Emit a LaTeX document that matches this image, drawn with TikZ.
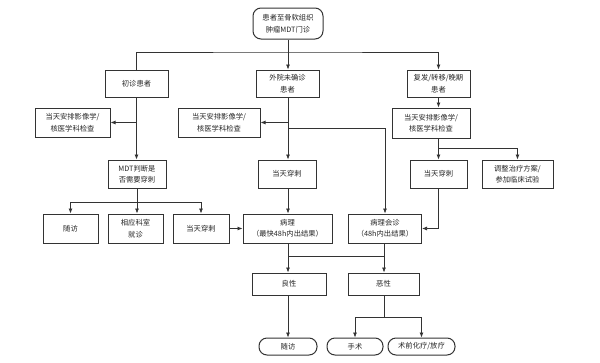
\documentclass[tikz,border=0pt]{standalone}
\usepackage{fontspec}
\newfontfamily\cjk{Noto Sans CJK SC}
\usetikzlibrary{arrows.meta,calc}
\begin{document}
\begin{tikzpicture}[x=1pt,y=-1pt,
  box/.style={draw=black!80, line width=1pt, fill=white, inner sep=0pt, align=center,
    font=\cjk\fontsize{7.3}{11.5}\selectfont, text=black!85},
  rbox/.style={box, rounded corners=8pt},
  arr/.style={-{Latex[length=5pt,width=4pt]}, line width=0.7pt, draw=black!80},
  ln/.style={line width=0.7pt, draw=black!80}]
\useasboundingbox[fill=white] (0,0) rectangle (600,362);
% nodes
\node[rbox, minimum width=70pt, minimum height=31pt] (top) at (288,23.5) {患者至骨软组织\\肿瘤MDT门诊};
\node[box, minimum width=63pt, minimum height=27pt] (chu) at (136.5,83.5) {初诊患者};
\node[box, minimum width=63pt, minimum height=27pt] (wy) at (287.5,83.5) {外院未确诊\\患者};
\node[box, minimum width=63pt, minimum height=27pt] (ff) at (438.5,83.5) {复发/转移/晚期\\患者};
\node[box, minimum width=75pt, minimum height=29pt] (img1) at (72.5,122.5) {当天安排影像学/\\核医学科检查};
\node[box, minimum width=82pt, minimum height=29pt] (img2) at (219,122.5) {当天安排影像学/\\核医学科检查};
\node[box, minimum width=78pt, minimum height=30pt] (img3) at (431,123) {当天安排影像学/\\核医学科检查};
\node[box, minimum width=58pt, minimum height=28pt] (mdt) at (137,174) {MDT判断是\\否需要穿刺};
\node[box, minimum width=58pt, minimum height=28pt] (cc2) at (287,174) {当天穿刺};
\node[box, minimum width=57pt, minimum height=28pt] (cc3) at (438.5,174) {当天穿刺};
\node[box, minimum width=71pt, minimum height=28pt] (tz) at (517.5,174) {调整治疗方案/\\参加临床试验};
\node[box, minimum width=55pt, minimum height=29pt] (sf1) at (70.5,228.5) {随访};
\node[box, minimum width=55pt, minimum height=29pt] (xy) at (135.5,228.5) {相应科室\\就诊};
\node[box, minimum width=56pt, minimum height=29pt] (cc1) at (201,228.5) {当天穿刺};
\node[box, minimum width=89pt, minimum height=29pt] (bl) at (287.5,228.5) {病理\\（最快48h内出结果）};
\node[box, minimum width=73pt, minimum height=29pt] (blhz) at (385,228.5) {病理会诊\\（48h内出结果）};
\node[box, minimum width=74pt, minimum height=22pt] (lx) at (289,284) {良性};
\node[box, minimum width=71pt, minimum height=22pt] (ex) at (383.5,284) {恶性};
\node[rbox, minimum width=58pt, minimum height=17pt] (sf2) at (288,346.5) {随访};
\node[rbox, minimum width=56pt, minimum height=17pt] (ss) at (355,346.5) {手术};
\node[rbox, minimum width=67pt, minimum height=17pt] (sq) at (421.5,346.5) {术前化疗/放疗};
% coordinates
\coordinate (h1) at (288,52);
\coordinate (m1) at (288,128);
\coordinate (r1) at (438,148);
\coordinate (h2) at (137,202);
\coordinate (h3) at (288,256);
\coordinate (h4) at (384,317);
% connectors
\draw[arr] (top.south) -- (top.south |- wy.north);
\draw[arr] (chu.north) |- (h1) -| (ff.north);
\draw[arr] (chu.south) -- (chu.south |- mdt.north);
\draw[arr] (chu.south |- img1.east) -- (img1.east);
\draw[arr] (top.south |- wy.south) -- (top.south |- cc2.north);
\draw[arr] (top.south |- img2.east) -- (img2.east);
\draw[arr] (m1) -| (blhz.north);
\draw[arr] (ff.south) -- (ff.south |- img3.north);
\draw[arr] (ff.south |- img3.south) -- (ff.south |- cc3.north);
\draw[arr] (r1) -| (tz.north);
\draw[arr] (cc3.south) |- (blhz.east);
\draw[ln] (mdt.south) -- (h2);
\draw[arr] (h2) -| (sf1.north);
\draw[arr] (h2) -| (cc1.north);
\draw[arr] (h2) -- (h2 |- xy.north);
\draw[arr] (cc1.east) -- (bl.west);
\draw[arr] (top.south |- cc2.south) -- (top.south |- bl.north);
\draw[arr] (h3 |- bl.south) -- (h3 |- lx.north);
\draw[arr] (h4 |- blhz.south) -- (h4 |- ex.north);
\draw[ln] (h3) -- (h3 -| h4);
\draw[arr] (h3 |- lx.south) -- (h3 |- sf2.north);
\draw[ln] (h4 |- ex.south) -- (h4);
\draw[arr] (h4) -| (ss.north);
\draw[arr] (h4) -| (sq.north);
\end{tikzpicture}
\end{document}
